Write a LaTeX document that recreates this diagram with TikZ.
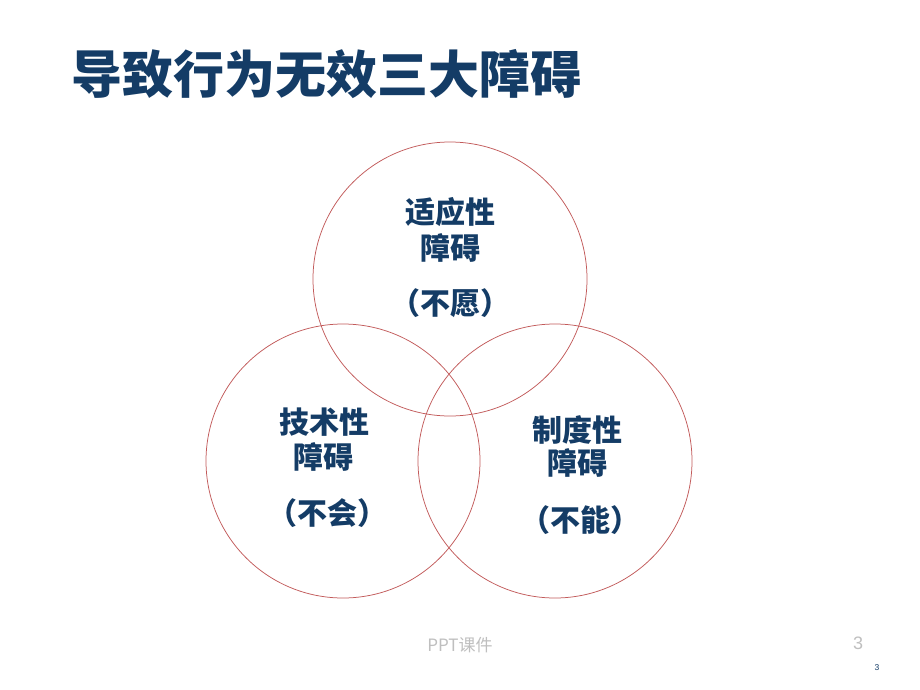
\documentclass[tikz,border=0pt]{standalone}
\usepackage{fontspec}
\setmainfont{Liberation Sans}
\newfontfamily\cjk{Noto Sans CJK SC}
\usetikzlibrary{positioning}
\definecolor{labColor}{HTML}{143C66}
\definecolor{ringColor}{HTML}{C25A5A}
\definecolor{footColor}{HTML}{BFBFBF}
\tikzset{
	ring/.style={draw=ringColor, line width=0.75pt, circle, minimum size=274pt, inner sep=0},
	lab/.style={text=labColor, font=\cjk\bfseries\fontsize{30}{30}\selectfont, inner sep=0},
	foot/.style={text=footColor, inner sep=0}
}
\begin{document}
\begin{tikzpicture}[x=1pt,y=-1pt]
	\useasboundingbox[fill=white] (0,0) rectangle (920,690);
	\node[text=labColor, font=\cjk\bfseries\fontsize{51}{51}\selectfont, inner sep=0] (title) at (326,74) {导致行为无效三大障碍};
	% three circles
	\node[ring] (shiying) at (450,279) {};
	\node[ring] (jishu) at (343,461) {};
	\node[ring] (zhidu) at (555,461) {};
	% top
	\node[lab] (shiying_1) at (450,212) {适应性};
	\node[lab] (shiying_2) at (450,248) {障碍};
	\node[lab] (shiying_3) at (450,303) {（不愿）};
	% left
	\node[lab] (jishu_1) at (324,422) {技术性};
	\node[lab] (jishu_2) at (323,457) {障碍};
	\node[lab] (jishu_3) at (327,513) {（不会）};
	% right
	\node[lab] (zhidu_1) at (577,430) {制度性};
	\node[lab] (zhidu_2) at (577,463) {障碍};
	\node[lab] (zhidu_3) at (580,520) {（不能）};
	% footer
	\node[foot, font=\cjk\fontsize{17}{17}\selectfont] (kejian) at (460,645) {PPT课件};
	\node[foot, font=\fontsize{18}{18}\selectfont] (page) at (858,643) {3};
	\node[inner sep=0, text=labColor, font=\fontsize{8.5}{8.5}\selectfont] (pagesmall) at (877,668) {3};
\end{tikzpicture}
\end{document}
